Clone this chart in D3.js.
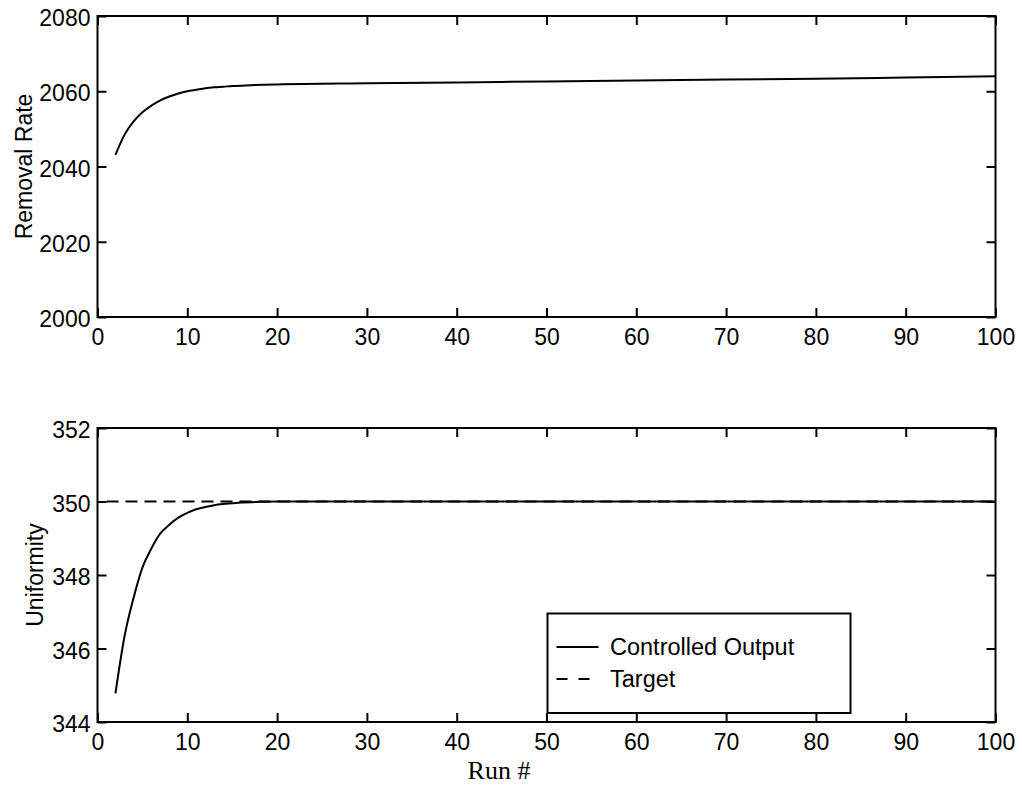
<!DOCTYPE html>
<html>
<head>
<meta charset="utf-8">
<script src="https://cdn.jsdelivr.net/npm/d3@7"></script>
<style>
  html, body { margin: 0; padding: 0; background: #fff; }
  svg { display: block; }
  .tick text { font-family: Arial, "Liberation Sans", Helvetica, sans-serif; font-size: 23px; fill: #000; }
</style>
</head>
<body>
<svg id="chart" width="1022" height="785"></svg>
<script>
// Run numbers and measured removal rate (top panel)
const rrRuns = [2, 3, 4, 5, 6, 7, 8, 9, 10, 11, 12, 13, 14, 15, 17, 20, 30, 40, 50, 60, 70, 80, 90, 100];
const rrValues = [2043.1, 2048.4, 2051.9, 2054.4, 2056.2, 2057.6, 2058.6, 2059.4, 2060.0, 2060.4, 2060.8, 2061.05,
                  2061.2, 2061.4, 2061.6, 2061.8, 2062.1, 2062.35, 2062.6, 2062.85, 2063.1, 2063.35, 2063.65, 2064.0];

// Run numbers and controlled uniformity output (bottom panel)
const uRuns = [2, 3, 4, 5, 6, 7, 8, 9, 10, 11, 12, 13, 14, 15, 16, 18, 20, 30, 40, 50, 60, 70, 80, 90, 100];
const uValues = [344.78, 346.32, 347.36, 348.2, 348.72, 349.13, 349.37, 349.56, 349.69, 349.79, 349.85, 349.9,
                 349.93, 349.95, 349.97, 349.99, 350, 350, 350, 350, 350, 350, 350, 350, 350];

// Uniformity target
const targetRuns = [1, 100];
const targetValue = 350;

// Axis ticks
const xTicks = [0, 10, 20, 30, 40, 50, 60, 70, 80, 90, 100];
const rrTicks = [2000, 2020, 2040, 2060, 2080];
const uTicks = [344, 346, 348, 350, 352];

// Legend entries
const legendLabels = ["Controlled Output", "Target"];

const svg = d3.select("#chart");
const FONT = 'Arial, "Liberation Sans", Helvetica, sans-serif';

const x = d3.scaleLinear().domain([0, 100]).range([97.5, 995.5]);

function panel(yDomain, yRange, yTicks) {
  const y = d3.scaleLinear().domain(yDomain).range(yRange);
  const g = svg.append("g");
  const [yb, yt] = yRange;
  const [xl, xr] = x.range();

  // bottom axis with labels, ticks pointing inward
  const bx = g.append("g").attr("transform", `translate(0,${yb})`)
    .call(d3.axisBottom(x).tickValues(xTicks).tickSize(-9).tickSizeOuter(0).tickPadding(12).tickFormat(d3.format("d")));
  // top axis, ticks only
  const tx = g.append("g").attr("transform", `translate(0,${yt})`)
    .call(d3.axisTop(x).tickValues(xTicks).tickSize(-9).tickSizeOuter(0).tickFormat(""));
  // left axis with labels
  const ly = g.append("g").attr("transform", `translate(${xl},0)`)
    .call(d3.axisLeft(y).tickValues(yTicks).tickSize(-9).tickSizeOuter(0).tickPadding(7).tickFormat(d3.format("d")));
  ly.selectAll(".tick text").attr("dy", "0.42em");
  // right axis, ticks only
  const ry = g.append("g").attr("transform", `translate(${xr},0)`)
    .call(d3.axisRight(y).tickValues(yTicks).tickSize(-9).tickSizeOuter(0).tickFormat(""));

  [bx, tx, ly, ry].forEach(a => {
    a.select(".domain").remove();
    a.selectAll(".tick line").attr("stroke", "#000").attr("stroke-width", 2);
  });

  g.append("rect")
    .attr("x", xl).attr("y", yt)
    .attr("width", xr - xl).attr("height", yb - yt)
    .attr("fill", "none").attr("stroke", "#000").attr("stroke-width", 2);

  return { g, y };
}

// ---- Top panel: removal rate ----
const ratePanel = panel([2000, 2080], [317, 16], rrTicks);
ratePanel.g.append("path")
  .datum(rrRuns.map((r, i) => [r, rrValues[i]]))
  .attr("fill", "none").attr("stroke", "#000").attr("stroke-width", 2)
  .attr("d", d3.line().x(d => x(d[0])).y(d => ratePanel.y(d[1])).curve(d3.curveMonotoneX));

svg.append("text")
  .attr("transform", `translate(32,${(317 + 16) / 2}) rotate(-90)`)
  .attr("text-anchor", "middle")
  .attr("font-family", FONT).attr("font-size", 23)
  .text("Removal Rate");

// ---- Bottom panel: uniformity ----
const unifPanel = panel([344, 352], [722, 428], uTicks);
unifPanel.g.append("path")
  .datum(targetRuns.map(r => [r, targetValue]))
  .attr("fill", "none").attr("stroke", "#000").attr("stroke-width", 2)
  .attr("stroke-dasharray", "12,7")
  .attr("d", d3.line().x(d => x(d[0])).y(d => unifPanel.y(d[1])));
unifPanel.g.append("path")
  .datum(uRuns.map((r, i) => [r, uValues[i]]))
  .attr("fill", "none").attr("stroke", "#000").attr("stroke-width", 2)
  .attr("d", d3.line().x(d => x(d[0])).y(d => unifPanel.y(d[1])).curve(d3.curveMonotoneX));

svg.append("text")
  .attr("transform", `translate(43,${(722 + 428) / 2}) rotate(-90)`)
  .attr("text-anchor", "middle")
  .attr("font-family", FONT).attr("font-size", 23)
  .text("Uniformity");

svg.append("text")
  .attr("x", 499).attr("y", 779)
  .attr("text-anchor", "middle")
  .attr("font-family", '"Liberation Serif", "Times New Roman", serif').attr("font-size", 26)
  .text("Run #");

// ---- Legend ----
const leg = svg.append("g");
leg.append("rect")
  .attr("x", 547.5).attr("y", 613.5).attr("width", 303).attr("height", 99.5)
  .attr("fill", "#fff").attr("stroke", "#000").attr("stroke-width", 2);
const legY = [647, 679];
const legDash = [null, "11,11"];
legendLabels.forEach((lab, i) => {
  leg.append("line")
    .attr("x1", 556.5).attr("x2", 598.5).attr("y1", legY[i]).attr("y2", legY[i])
    .attr("stroke", "#000").attr("stroke-width", 2)
    .attr("stroke-dasharray", legDash[i]);
  leg.append("text")
    .attr("x", 610).attr("y", legY[i] + 8)
    .attr("font-family", FONT).attr("font-size", 23.5)
    .text(lab);
});
</script>
</body>
</html>
